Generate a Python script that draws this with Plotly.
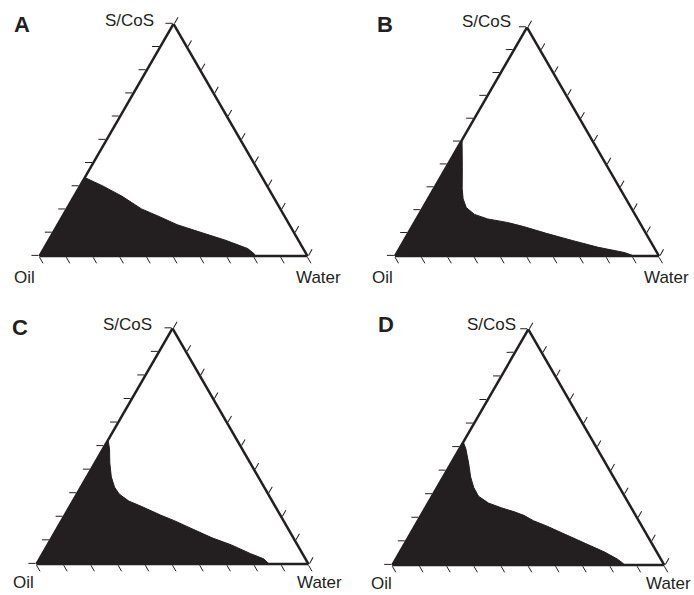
import plotly.graph_objects as go
import math

# ---- data: phase boundary of the black (two-phase / non-microemulsion) region
# S/CoS fraction (a) and Water fraction (c); Oil = 1 - a - c
A_scos = [0, 0.338, 0.302, 0.257, 0.203, 0.167, 0.135, 0.104, 0.068, 0.032, 0.009, 0]
A_water = [0, 0, 0.085, 0.180, 0.279, 0.369, 0.446, 0.544, 0.660, 0.761, 0.797, 0.805]

B_scos = [0, 0.508, 0.386, 0.295, 0.250, 0.212, 0.182, 0.162, 0.147, 0.129, 0.099, 0.068, 0.038, 0.015, 0.005, 0]
B_water = [0, 0, 0.062, 0.107, 0.133, 0.164, 0.210, 0.270, 0.351, 0.422, 0.524, 0.637, 0.751, 0.862, 0.891, 0.904]

C_scos = [0, 0.526, 0.489, 0.429, 0.370, 0.326, 0.296, 0.267, 0.244, 0.207, 0.185, 0.148, 0.111, 0.081, 0.044, 0.022, 0.003, 0]
C_water = [0, 0, 0.024, 0.055, 0.090, 0.124, 0.157, 0.206, 0.265, 0.354, 0.412, 0.501, 0.590, 0.676, 0.765, 0.824, 0.851, 0.857]

D_scos = [0, 0.522, 0.493, 0.433, 0.374, 0.329, 0.292, 0.263, 0.243, 0.226, 0.211, 0.188, 0.166, 0.129, 0.092, 0.055, 0.025, 0.010, 0]
D_water = [0, 0, 0.024, 0.064, 0.101, 0.135, 0.171, 0.222, 0.279, 0.335, 0.378, 0.425, 0.484, 0.573, 0.663, 0.753, 0.815, 0.840, 0.855]

panel_letters = ["A", "B", "C", "D"]
vertex_labels = ["S/CoS", "Oil", "Water"]

W_PX, H_PX = 694, 595
INK = "#231f20"
FONT = "Liberation Sans, Arial, sans-serif"

panels = [(A_scos, A_water), (B_scos, B_water), (C_scos, C_water), (D_scos, D_water)]
subplot_ids = ["ternary", "ternary2", "ternary3", "ternary4"]

fig = go.Figure()
for (sc, wa), sid in zip(panels, subplot_ids):
    oil = [1 - a - c for a, c in zip(sc, wa)]
    fig.add_trace(go.Scatterternary(
        a=sc, b=oil, c=wa, subplot=sid, mode="lines", fill="toself",
        fillcolor=INK, line=dict(color=INK, width=1), hoverinfo="skip",
        showlegend=False))


def domain(xl, xr, ybot):
    w = xr - xl
    h = w * math.sqrt(3) / 2
    return dict(x=[xl / W_PX, xr / W_PX], y=[1 - ybot / H_PX, 1 - (ybot - h) / H_PX])


axis_common = dict(showgrid=False, showticklabels=False, ticks="outside", ticklen=7,
                   tickwidth=1.2, tickcolor=INK, linecolor=INK, linewidth=2.5,
                   dtick=0.1, tick0=0, min=0, title=dict(text=""))

domains = [domain(39.5, 307.5, 256), domain(395, 659, 256),
           domain(36.5, 308.5, 564), domain(392.3, 664.3, 565)]

layout_kw = {}
for sid, dom in zip(subplot_ids, domains):
    layout_kw[sid] = dict(domain=dom, bgcolor="white", sum=1,
                          aaxis=axis_common, baxis=axis_common, caxis=axis_common)

# label positions (pixel centres): letter, S/CoS, Oil, Water
label_pos = [
    [(22, 25), (129, 21), (24, 277), (318, 277)],
    [(385, 25), (486, 22), (382, 277), (666, 277)],
    [(20, 327), (127, 325), (23, 582), (319, 582)],
    [(386, 325), (491, 324), (381, 583), (668, 583)],
]

annotations = []
for letter, pos in zip(panel_letters, label_pos):
    texts = [letter] + vertex_labels
    for i, (t, (px, py)) in enumerate(zip(texts, pos)):
        annotations.append(dict(
            text=("<b>%s</b>" % t) if i == 0 else t,
            x=px / W_PX, y=1 - py / H_PX, xref="paper", yref="paper",
            xanchor="center", yanchor="middle", showarrow=False,
            font=dict(family=FONT, size=22 if i == 0 else 17, color=INK)))

fig.update_layout(width=W_PX, height=H_PX, margin=dict(l=0, r=0, t=0, b=0),
                  paper_bgcolor="white", plot_bgcolor="white",
                  annotations=annotations, **layout_kw)

fig.write_html("out.html")
